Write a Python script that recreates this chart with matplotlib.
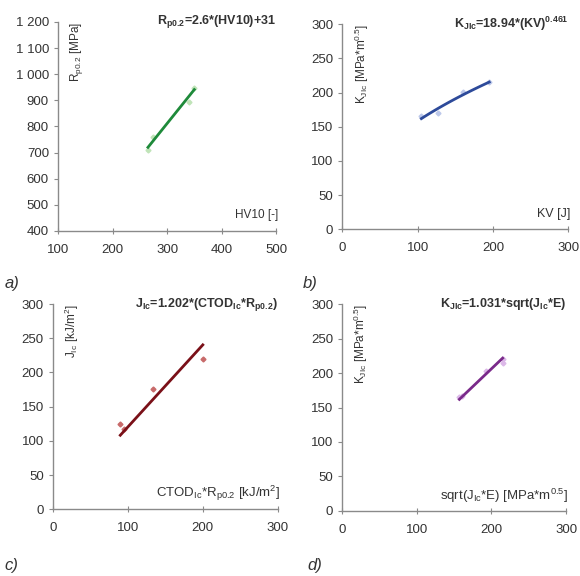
import numpy as np
import matplotlib
matplotlib.use('Agg')
import matplotlib.pyplot as plt

plt.rcParams['font.family'] = ['Liberation Sans', 'DejaVu Sans']
plt.rcParams['mathtext.fontset'] = 'custom'
plt.rcParams['mathtext.rm'] = 'Liberation Sans'
plt.rcParams['mathtext.it'] = 'Liberation Sans'
plt.rcParams['mathtext.bf'] = 'Liberation Sans:bold'
plt.rcParams['mathtext.default'] = 'regular'

# a) yield strength vs hardness
hv10 = [265, 275, 340, 350]
rp02 = [708, 758, 895, 948]
# b) fracture toughness vs impact energy
kv = [105, 127, 160, 195]
kjic_b = [165, 170, 201, 215]
# c) J integral vs CTOD*Rp0.2
ctod_rp = [90, 95, 133, 200]
jic = [125, 118, 176, 219]
# d) KJIc vs sqrt(Jic*E)
sqrt_je = [157, 160, 193, 215, 215]
kjic_d = [165, 167, 203, 215, 220]

fig = plt.figure(figsize=(5.8, 5.76), dpi=100)

panels = [
    dict(pos=[0.100, 0.599, 0.376, 0.363], x=hv10, y=rp02, xlim=(100, 500), ylim=(400, 1200),
         xt=[100, 200, 300, 400, 500], yt=range(400, 1201, 100),
         fit=lambda t: 2.6 * t + 31, lc='#1e8a3a', mc='#c0e4b8',
         title=r'$\mathbf{R_{p0.2}}$=2.6*(HV10)+31', ylab=r'R$_{p0.2}$ [MPa]', xlab='HV10 [-]', xfs=8.5,
         tag='a)', tagpos=(0.008, 0.500)),
    dict(pos=[0.590, 0.602, 0.390, 0.356], x=kv, y=kjic_b, xlim=(0, 300), ylim=(0, 300),
         xt=[0, 100, 200, 300], yt=range(0, 301, 50),
         fit=lambda t: 18.94 * t ** 0.461, lc='#2d4a9a', mc='#bcc8ea',
         title=r'$\mathbf{K_{JIc}}$=18.94*(KV)$^{\mathbf{0.461}}$', ylab=r'K$_{JIc}$ [MPa*m$^{0.5}$]', xlab='KV [J]', xfs=9,
         tag='b)', tagpos=(0.522, 0.500)),
    dict(pos=[0.091, 0.116, 0.388, 0.356], x=ctod_rp, y=jic, xlim=(0, 300), ylim=(0, 300),
         xt=[0, 100, 200, 300], yt=range(0, 301, 50),
         fit=lambda t: 1.202 * t, lc='#7a1018', mc='#c86a6a',
         title=r'$\mathbf{J_{Ic}}$=1.202*(CTOD$_{\mathbf{Ic}}$*R$_{\mathbf{p0.2}}$)', ylab=r'J$_{Ic}$ [kJ/m$^2$]',
         xlab=r'CTOD$_{Ic}$*R$_{p0.2}$ [kJ/m$^2$]', xfs=9.5, tag='c)', tagpos=(0.008, 0.010)),
    dict(pos=[0.590, 0.113, 0.386, 0.359], x=sqrt_je, y=kjic_d, xlim=(0, 300), ylim=(0, 300),
         xt=[0, 100, 200, 300], yt=range(0, 301, 50),
         fit=lambda t: 1.031 * t, lc='#7a2a8a', mc='#dcb8e8',
         title=r'$\mathbf{K_{JIc}}$=1.031*sqrt(J$_{\mathbf{Ic}}$*E)', ylab=r'K$_{JIc}$ [MPa*m$^{0.5}$]',
         xlab=r'sqrt(J$_{Ic}$*E) [MPa*m$^{0.5}$]', xfs=9.5, tag='d)', tagpos=(0.530, 0.010)),
]

for p in panels:
    ax = fig.add_axes(p['pos'])
    x = np.array(p['x'], dtype=float)
    y = np.array(p['y'], dtype=float)
    xs = np.linspace(x.min(), x.max(), 50)
    ax.plot(x, y, 'D', ms=2.5, color=p['mc'], zorder=2)
    ax.plot(xs, p['fit'](xs), '-', lw=2, color=p['lc'], zorder=3)
    ax.set_xlim(*p['xlim'])
    ax.set_ylim(*p['ylim'])
    ax.set_xticks(p['xt'])
    ax.set_yticks(list(p['yt']))
    if p['ylim'][1] > 1000:
        ax.set_yticklabels([f'{v:,}'.replace(',', ' ') for v in p['yt']])
    for s in ['top', 'right']:
        ax.spines[s].set_visible(False)
    for s in ['left', 'bottom']:
        ax.spines[s].set_color('#8a8a8a')
        ax.spines[s].set_linewidth(1.0)
    ax.tick_params(axis='both', colors='#8a8a8a', labelcolor='#333333', labelsize=9.5, length=3)
    ax.tick_params(axis='x', direction='inout', length=5, pad=7)
    ax.text(1.0, 1.0, p['title'], transform=ax.transAxes, ha='right', va='center',
            fontsize=9, fontweight='bold', color='#333333')
    ax.text(0.045, 1.0, p['ylab'], transform=ax.transAxes, ha='left', va='top',
            rotation=90, fontsize=8.5, color='#333333')
    ax.text(1.01, 0.075, p['xlab'], transform=ax.transAxes, ha='right', va='center',
            fontsize=p['xfs'], color='#333333')
    fig.text(p['tagpos'][0], p['tagpos'][1], p['tag'], fontsize=12, style='italic', color='#333333')

fig.savefig('out.png', dpi=100, facecolor='white')
